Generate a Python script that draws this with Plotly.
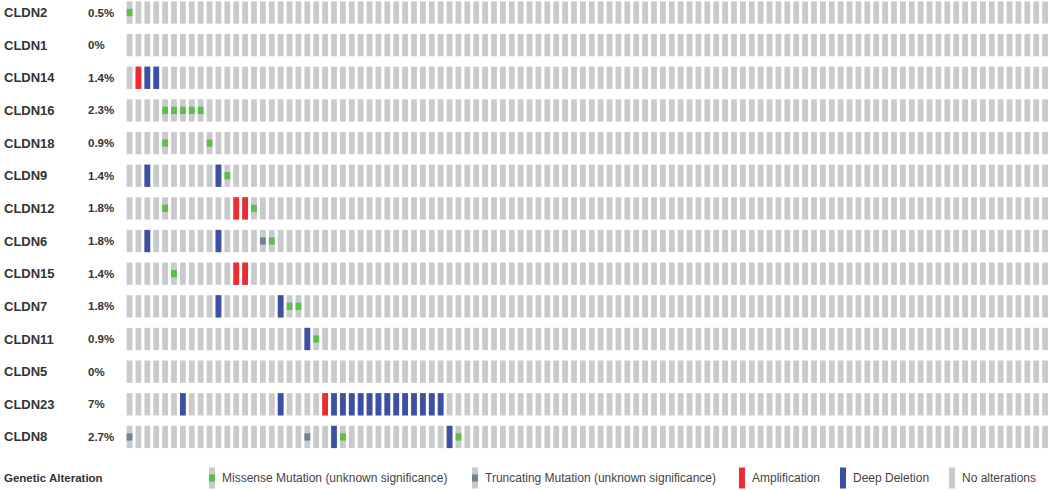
import plotly.graph_objects as go

# ---------------- data ----------------
genes = ["CLDN2", "CLDN1", "CLDN14", "CLDN16", "CLDN18", "CLDN9", "CLDN12",
         "CLDN6", "CLDN15", "CLDN7", "CLDN11", "CLDN5", "CLDN23", "CLDN8"]
percent_labels = ["0.5%", "0%", "1.4%", "2.3%", "0.9%", "1.4%", "1.8%",
                  "1.8%", "1.4%", "1.8%", "0.9%", "0%", "7%", "2.7%"]
n_columns = 104  # samples shown

missense = {"CLDN2": [0], "CLDN16": [4, 5, 6, 7, 8], "CLDN18": [4, 9],
            "CLDN9": [11], "CLDN12": [4, 14], "CLDN6": [16], "CLDN15": [5],
            "CLDN7": [18, 19], "CLDN11": [21], "CLDN8": [24, 37]}
truncating = {"CLDN6": [15], "CLDN8": [0, 20]}
amplification = {"CLDN14": [1], "CLDN12": [12, 13], "CLDN15": [12, 13],
                 "CLDN23": [22]}
deep_deletion = {"CLDN14": [2, 3], "CLDN9": [2, 10], "CLDN6": [2, 10],
                 "CLDN7": [10, 17], "CLDN11": [20],
                 "CLDN23": [6, 17, 23, 24, 25, 26, 27, 28, 29, 30, 31, 32, 33, 34, 35],
                 "CLDN8": [23, 36]}

legend_labels = ["Missense Mutation (unknown significance)",
                 "Truncating Mutation (unknown significance)",
                 "Amplification", "Deep Deletion", "No alterations"]

# ---------------- style ----------------
W, H = 1052, 490
GREY = "#c9cacc"
GREEN = "#5dbf49"
TRUNC = "#6f8491"
RED = "#ee2b30"
BLUE = "#3d50a3"
FONT = "Arial, 'Liberation Sans', Helvetica, sans-serif"

COL0_PX, COL_PITCH = 129.55, 8.889
ROW0_PX, ROW_PITCH = 12.5, 32.65
x_range = [-COL0_PX / COL_PITCH, (W - COL0_PX) / COL_PITCH]
y_range = [(H - ROW0_PX) / ROW_PITCH, -ROW0_PX / ROW_PITCH]

BAR_W = 5.8 / COL_PITCH
BAR_H = 22.3 / ROW_PITCH
MUT_H = 7.3 / ROW_PITCH


def cell_trace(name, cells, height, color):
    xs, bases = [], []
    for gene, cols in cells.items():
        r = genes.index(gene)
        for c in cols:
            xs.append(c)
            bases.append(r - height / 2)
    return go.Bar(x=xs, y=[height] * len(xs), base=bases, width=BAR_W,
                  marker=dict(color=color, line=dict(width=0)), name=name,
                  showlegend=False, hoverinfo="skip")


background = {g: list(range(n_columns)) for g in genes}

fig = go.Figure()
fig.add_trace(cell_trace("No alterations", background, BAR_H, GREY))
fig.add_trace(cell_trace("Amplification", amplification, BAR_H, RED))
fig.add_trace(cell_trace("Deep Deletion", deep_deletion, BAR_H, BLUE))
fig.add_trace(cell_trace("Missense", missense, MUT_H, GREEN))
fig.add_trace(cell_trace("Truncating", truncating, MUT_H, TRUNC))

annotations = []
for i, g in enumerate(genes):
    annotations.append(dict(x=2 / W, xref="paper", y=i, yref="y",
                            text="<b>%s</b>" % g,
                            showarrow=False, xanchor="left", yanchor="middle",
                            font=dict(family=FONT, size=13, color="#333333")))
    annotations.append(dict(x=85.5 / W, xref="paper", y=i, yref="y",
                            text="<b>%s</b>" % percent_labels[i],
                            showarrow=False, xanchor="left", yanchor="middle",
                            font=dict(family=FONT, size=11.5, color="#333333")))

LEG_Y = 478
annotations.append(dict(x=2 / W, xref="paper", y=1 - LEG_Y / H, yref="paper",
                        text="<b>Genetic Alteration</b>", showarrow=False,
                        xanchor="left", yanchor="middle",
                        font=dict(family=FONT, size=11.5, color="#333333")))

legend_icon_x = [209, 472, 739, 840, 949]
legend_text_x = [220, 483, 750, 851, 960]
legend_fill = [(GREY, GREEN), (GREY, TRUNC), (RED, None), (BLUE, None), (GREY, None)]
shapes = []
icon_w = 6
for k, lab in enumerate(legend_labels):
    x0 = legend_icon_x[k]
    base_col, inner_col = legend_fill[k]
    shapes.append(dict(type="rect", xref="paper", yref="paper",
                       x0=x0 / W, x1=(x0 + icon_w) / W,
                       y0=1 - (LEG_Y + 10.5) / H, y1=1 - (LEG_Y - 10.5) / H,
                       fillcolor=base_col, line=dict(width=0)))
    if inner_col:
        shapes.append(dict(type="rect", xref="paper", yref="paper",
                           x0=x0 / W, x1=(x0 + icon_w) / W,
                           y0=1 - (LEG_Y + 3.6) / H, y1=1 - (LEG_Y - 3.6) / H,
                           fillcolor=inner_col, line=dict(width=0)))
    annotations.append(dict(x=legend_text_x[k] / W, xref="paper",
                            y=1 - LEG_Y / H, yref="paper", text=lab,
                            showarrow=False, xanchor="left", yanchor="middle",
                            font=dict(family=FONT, size=12, color="#444444")))

fig.update_layout(
    width=W, height=H, autosize=False,
    margin=dict(l=0, r=0, t=0, b=0, pad=0),
    paper_bgcolor="white", plot_bgcolor="white",
    barmode="overlay",
    xaxis=dict(range=x_range, visible=False, fixedrange=True),
    yaxis=dict(range=y_range, visible=False, fixedrange=True),
    annotations=annotations, shapes=shapes,
    showlegend=False,
)

fig.write_html("out.html", config={"displayModeBar": False},
               post_script="document.body.style.margin='0px';"
                           "document.body.style.overflow='hidden';")
